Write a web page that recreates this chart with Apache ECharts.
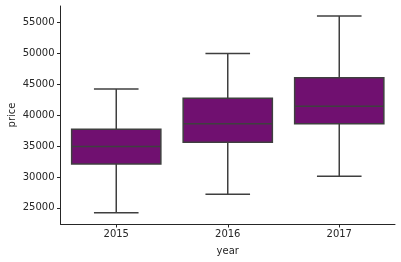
<!DOCTYPE html>
<html>
<head>
<meta charset="utf-8">
<script src="https://cdn.jsdelivr.net/npm/echarts@6/dist/echarts.min.js"></script>
<style>html,body{margin:0;padding:0;background:#fff;}#c{width:401px;height:262px;}</style>
</head>
<body>
<div id="c"></div>
<script>
const categories = ['2015', '2016', '2017'];
const whiskerLow = [24200, 27200, 30100];
const q1 = [32100, 35600, 38600];
const median = [34900, 38600, 41400];
const q3 = [37700, 42700, 46000];
const whiskerHigh = [44200, 49950, 56000];
const yTicks = [25000, 30000, 35000, 40000, 45000, 50000, 55000];

const data = categories.map((c, i) => [i, whiskerLow[i], q1[i], median[i], q3[i], whiskerHigh[i]]);

const fill = '#701070';
const lineC = '#3f3f3f';
const txt = '#262626';

const chart = echarts.init(document.getElementById('c'), null, {renderer: 'canvas'});
chart.setOption({
  animation: false,
  backgroundColor: '#fff',
  grid: {left: 60.5, right: 6, top: 6, bottom: 38, containLabel: false, outerBoundsMode: 'none'},
  xAxis: {
    type: 'category',
    data: categories,
    boundaryGap: true,
    name: 'year',
    nameLocation: 'middle',
    nameGap: 22,
    nameMoveOverlap: false,
    nameTextStyle: {fontFamily: 'DejaVu Sans', fontSize: 10, color: txt},
    axisLine: {show: true, lineStyle: {color: txt, width: 1}},
    axisTick: {show: true, alignWithLabel: true, length: 3.5, lineStyle: {color: txt, width: 1}},
    axisLabel: {fontFamily: 'DejaVu Sans', fontSize: 10, color: txt, margin: 5},
    splitLine: {show: false}
  },
  yAxis: {
    type: 'value',
    min: 22400,
    max: 57600,
    name: 'price',
    nameLocation: 'middle',
    nameGap: 43,
    nameMoveOverlap: false,
    nameTextStyle: {fontFamily: 'DejaVu Sans', fontSize: 10, color: txt},
    axisLine: {show: true, lineStyle: {color: txt, width: 1}},
    axisTick: {show: true, length: 3.5, lineStyle: {color: txt, width: 1}, customValues: yTicks},
    axisLabel: {fontFamily: 'DejaVu Sans', fontSize: 10, color: txt, margin: 6, customValues: yTicks, formatter: function (v) { return String(v); }},
    splitLine: {show: false}
  },
  series: [{
    type: 'custom',
    data: data,
    encode: {x: 0, y: [1, 2, 3, 4, 5]},
    renderItem: function (params, api) {
      const idx = api.value(0);
      const band = api.size([1, 0])[0];
      const boxW = band * 0.8;
      const capW = boxW / 2;
      const pLow = api.coord([idx, api.value(1)]);
      const pQ1 = api.coord([idx, api.value(2)]);
      const pMed = api.coord([idx, api.value(3)]);
      const pQ3 = api.coord([idx, api.value(4)]);
      const pHigh = api.coord([idx, api.value(5)]);
      const cx = pMed[0];
      const ls = {stroke: lineC, lineWidth: 1.5};
      return {
        type: 'group',
        children: [
          {type: 'line', shape: {x1: cx, y1: pQ1[1], x2: cx, y2: pLow[1]}, style: ls},
          {type: 'line', shape: {x1: cx, y1: pQ3[1], x2: cx, y2: pHigh[1]}, style: ls},
          {type: 'line', shape: {x1: cx - capW / 2, y1: pLow[1], x2: cx + capW / 2, y2: pLow[1]}, style: ls},
          {type: 'line', shape: {x1: cx - capW / 2, y1: pHigh[1], x2: cx + capW / 2, y2: pHigh[1]}, style: ls},
          {type: 'rect', shape: {x: cx - boxW / 2, y: pQ3[1], width: boxW, height: pQ1[1] - pQ3[1]}, style: {fill: fill, stroke: lineC, lineWidth: 1.5}},
          {type: 'line', shape: {x1: cx - boxW / 2, y1: pMed[1], x2: cx + boxW / 2, y2: pMed[1]}, style: ls}
        ]
      };
    }
  }]
});
</script>
</body>
</html>
